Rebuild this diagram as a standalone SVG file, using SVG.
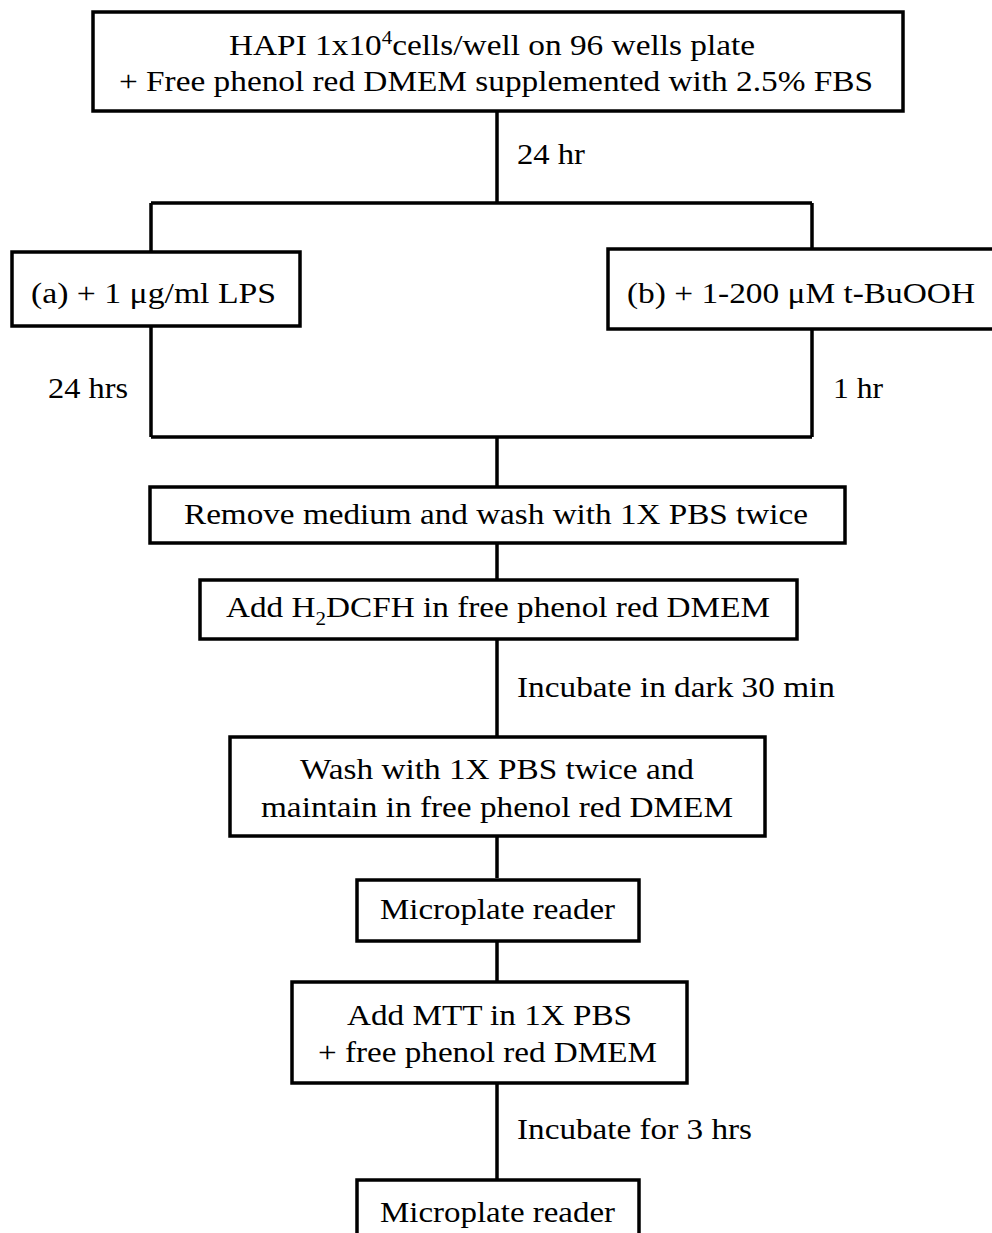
<svg xmlns="http://www.w3.org/2000/svg" width="992" height="1233" viewBox="0 0 992 1233">
<style>
.box{fill:#fff;stroke:#000;stroke-width:3.5}
.ln{fill:none;stroke:#000;stroke-width:3.5}
text{font-family:"Liberation Serif","Times New Roman",serif;font-size:30px;fill:#000}
.c{text-anchor:middle}
</style>
<rect width="992" height="1233" fill="#fff"/>
<g id="connectors">
<path class="ln" d="M497 111V203M151 203H812M151 203V252M812 203V249M151 326V437M812 329V437M151 437H812M497 437V487M497 543V580M497 639V737M497 836V878M497 941V982M497 1083V1180"/>
<text x="517" y="164" textLength="68" lengthAdjust="spacingAndGlyphs">24 hr</text>
<text x="48" y="398" textLength="80" lengthAdjust="spacingAndGlyphs">24 hrs</text>
<text x="833" y="398" textLength="50" lengthAdjust="spacingAndGlyphs">1 hr</text>
<text x="517" y="697" textLength="318" lengthAdjust="spacingAndGlyphs">Incubate in dark 30 min</text>
<text x="517" y="1139" textLength="235" lengthAdjust="spacingAndGlyphs">Incubate for 3 hrs</text>
</g>
<g id="n1">
<rect class="box" x="93" y="12" width="810" height="99"/>
<text x="229" y="55" textLength="526" lengthAdjust="spacingAndGlyphs">HAPI 1x10<tspan dy="-11" font-size="19">4</tspan><tspan dy="11">cells/well on 96 wells plate</tspan></text>
<text x="119" y="91" textLength="754" lengthAdjust="spacingAndGlyphs">+ Free phenol red DMEM supplemented with 2.5% FBS</text>
</g>
<g id="n2a">
<rect class="box" x="12" y="252" width="288" height="74"/>
<text x="31" y="303" textLength="245" lengthAdjust="spacingAndGlyphs">(a) + 1 μg/ml LPS</text>
</g>
<g id="n2b">
<rect class="box" x="608" y="249" width="400" height="80"/>
<text x="627" y="303" textLength="348" lengthAdjust="spacingAndGlyphs">(b) + 1-200 μM t-BuOOH</text>
</g>
<g id="n3">
<rect class="box" x="150" y="487" width="695" height="56"/>
<text x="184" y="524" textLength="624" lengthAdjust="spacingAndGlyphs">Remove medium and wash with 1X PBS twice</text>
</g>
<g id="n4">
<rect class="box" x="200" y="580" width="597" height="59"/>
<text x="226" y="617" textLength="544" lengthAdjust="spacingAndGlyphs">Add H<tspan dy="8" font-size="19">2</tspan><tspan dy="-8">DCFH in free phenol red DMEM</tspan></text>
</g>
<g id="n5">
<rect class="box" x="230" y="737" width="535" height="99"/>
<text x="300" y="779" textLength="394" lengthAdjust="spacingAndGlyphs">Wash with 1X PBS twice and</text>
<text x="261" y="817" textLength="472" lengthAdjust="spacingAndGlyphs">maintain in free phenol red DMEM</text>
</g>
<g id="n6">
<rect class="box" x="357" y="880" width="282" height="61"/>
<text x="380" y="919" textLength="235" lengthAdjust="spacingAndGlyphs">Microplate reader</text>
</g>
<g id="n7">
<rect class="box" x="292" y="982" width="395" height="101"/>
<text x="347" y="1025" textLength="285" lengthAdjust="spacingAndGlyphs">Add MTT in 1X PBS</text>
<text x="318" y="1062" textLength="339" lengthAdjust="spacingAndGlyphs">+ free phenol red DMEM</text>
</g>
<g id="n8">
<rect class="box" x="357" y="1180" width="282" height="70"/>
<text x="380" y="1222" textLength="235" lengthAdjust="spacingAndGlyphs">Microplate reader</text>
</g>
</svg>
